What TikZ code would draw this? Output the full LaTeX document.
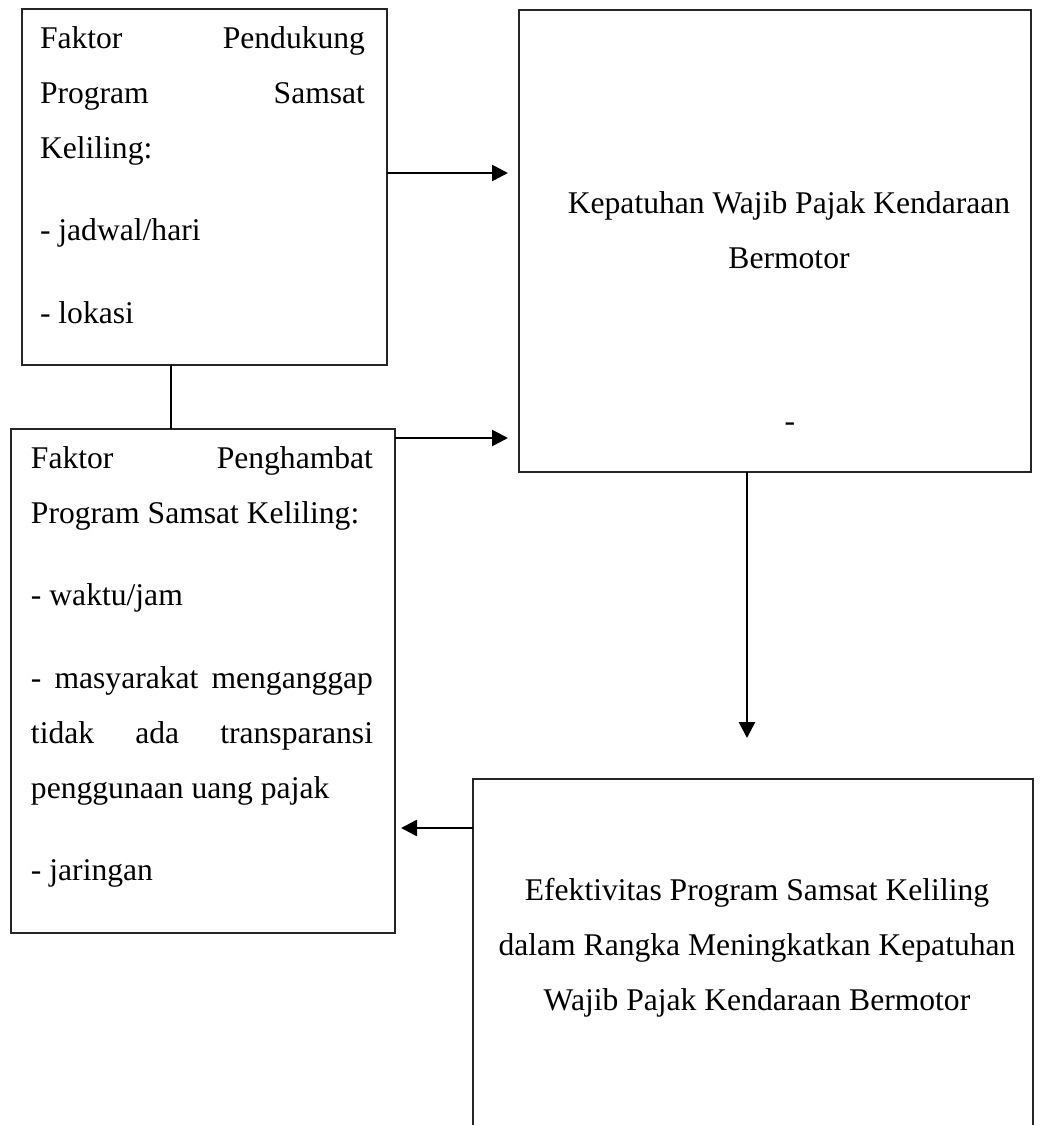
\documentclass[tikz,border=0pt]{standalone}
\usepackage{fontspec}
\setmainfont{Liberation Serif}
\usetikzlibrary{arrows.meta}
\newcommand\diagfs{\fontsize{15.8}{27.5}\selectfont}
\begin{document}
\begin{tikzpicture}[x=0.5pt,y=-0.5pt,
  boxshape/.style={draw=black!85, line width=0.6pt, rectangle, inner sep=0pt, outer sep=0pt},
  openbox/.style={draw=none, rectangle, inner sep=0pt, outer sep=0pt},
  conn/.style={line width=1.3pt, -{Triangle[length=8pt,width=8pt]}},
  plainline/.style={line width=1pt},
  txt/.style={inner sep=0pt, outer sep=0pt, font=\diagfs}]
\useasboundingbox (0,0) rectangle (1059,1125);

% boxes
\node[boxshape, minimum width=182.5pt, minimum height=178pt] (a) at (204.5,187) {};
\node[boxshape, minimum width=256pt, minimum height=231pt] (b) at (775,241) {};
\node[boxshape, minimum width=192pt, minimum height=252pt] (c) at (203,681) {};
\node[openbox, minimum width=280pt, minimum height=173pt] (d) at (753,952) {};
\draw[draw=black!85, line width=0.6pt] (d.south west) |- (d.north east) -- (d.south east);

% texts
\node[txt, anchor=base west] (ta) at (40,48) {\parbox[t]{162.5pt}{\diagfs
  Faktor\hfill Pendukung\\
  Program\hfill Samsat\\
  Keliling:\\[13.75pt]
  - jadwal/hari\\[13.75pt]
  - lokasi}};
\node[txt, anchor=base] (tb) at (789,213) {\parbox[t]{260pt}{\centering\diagfs
  Kepatuhan Wajib Pajak Kendaraan\\
  Bermotor}};
\node[txt, anchor=base] (tdash) at (790,431) {-};
\node[txt, anchor=base west] (tc) at (31,468) {\parbox[t]{171pt}{\diagfs
  Faktor\hfill Penghambat\\
  Program Samsat Keliling:\\[13.75pt]
  - waktu/jam\\[13.75pt]
  -\hfill masyarakat\hfill menganggap\\
  tidak\hfill ada\hfill transparansi\\
  penggunaan uang pajak\\[13.75pt]
  - jaringan}};
\node[txt, anchor=base] (td) at (757,900) {\parbox[t]{290pt}{\centering\diagfs
  Efektivitas Program Samsat Keliling\\
  dalam Rangka Meningkatkan Kepatuhan\\
  Wajib Pajak Kendaraan Bermotor}};

% helper coordinates
\coordinate (y1) at (0,173);
\coordinate (y2) at (0,438);
\coordinate (y4) at (0,828);
\coordinate (x3) at (747,0);
\coordinate (x5) at (171,0);
\coordinate (bt) at ([xshift=-5.5pt]b.west);
\coordinate (ct) at ([xshift=3pt]c.east);
\coordinate (dt) at ([yshift=20.5pt]d.north);

% connectors
\draw[conn] (a.east |- y1) -- (bt |- y1);
\draw[conn] (c.east |- y2) -- (bt |- y2);
\draw[plainline] (a.south -| x5) -- (c.north -| x5);
\draw[conn] (b.south -| x3) -- (x3 |- dt);
\draw[conn] (d.west |- y4) -- (ct |- y4);
\end{tikzpicture}
\end{document}
